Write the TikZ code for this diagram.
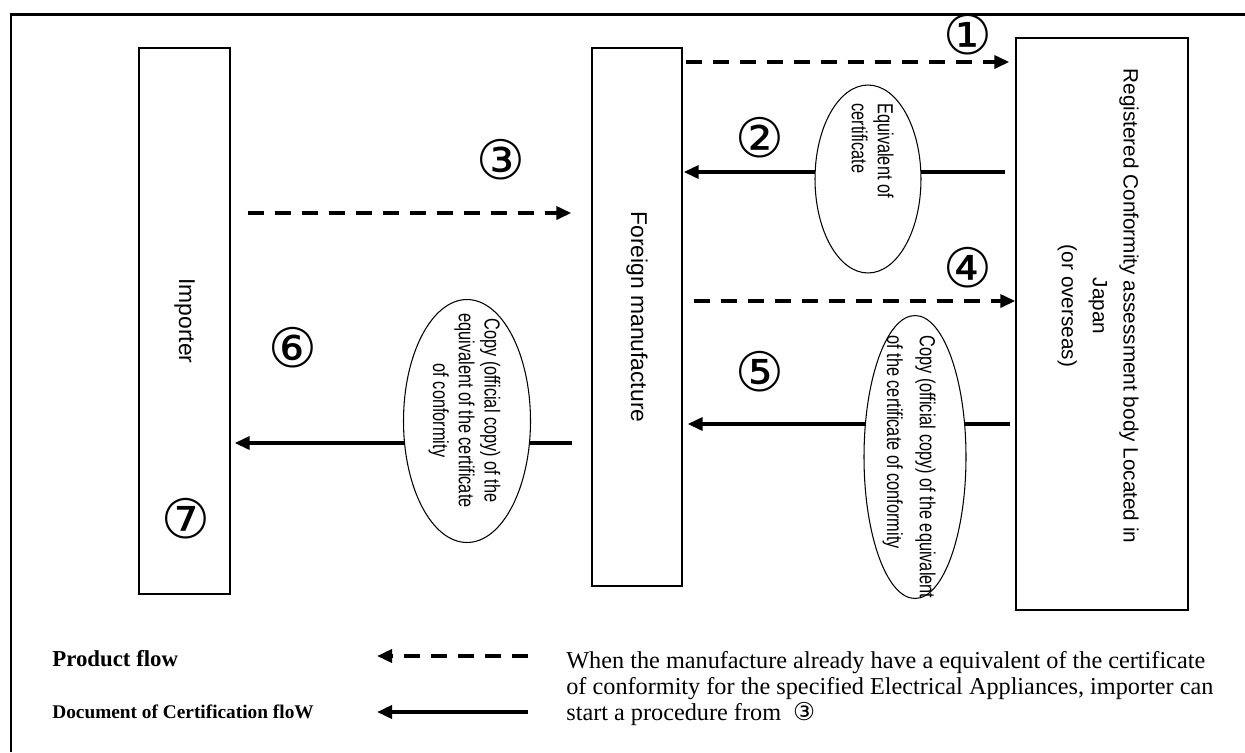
\documentclass[tikz,border=0pt]{standalone}
\usepackage{fontspec}
\setmainfont{Liberation Serif}
\newfontfamily\boxfont{Liberation Sans}
\newfontfamily\narrowfont[FakeStretch=0.75]{Liberation Sans}
\newfontfamily\circfont{DejaVu Sans}
\usetikzlibrary{arrows.meta,shapes.geometric}

\begin{document}
\begin{tikzpicture}[x=0.02cm, y=-0.02cm,
	party/.style={draw, line width=0.8pt, rectangle, inner sep=0pt, font=\boxfont\fontsize{13}{16}\selectfont},
	paper/.style={draw, ellipse, fill=white, line width=0.6pt, inner sep=0pt},
	paptext/.style={inner sep=0pt, font=\narrowfont\fontsize{12.4}{14.7}\selectfont},
	stepno/.style={inner sep=0pt, font=\circfont\fontsize{31}{31}\selectfont},
	prodflow/.style={line width=2pt, dash pattern=on 3.2mm off 2.2mm, -{Triangle[length=3mm,width=2.6mm]}},
	docflow/.style={line width=2pt, -{Triangle[length=3mm,width=2.6mm]}}]
					\useasboundingbox (0,0) rectangle (1245,752);
					\draw[line width=1.7pt] (11,752) -- (11,14) -- (1245,14);
					
					\node[party, minimum width=1.82cm, minimum height=10.92cm] (imp) at (184.5,321) {\rotatebox{-90}{Importer}};
					\node[party, minimum width=1.8cm, minimum height=10.76cm] (fm) at (637,317) {\rotatebox{-90}{Foreign manufacture}};
					\node[party, minimum width=3.44cm, minimum height=11.44cm] (reg) at (1102,324) {};
					\node[inner sep=0pt, font=\boxfont\fontsize{11.8}{17.6}\selectfont] (regtxt) at (1099,306) {\rotatebox{-90}{\begin{tabular}{@{}c@{}}Registered Conformity assessment body Located in\\Japan\\(or overseas)\end{tabular}}};
					
					\coordinate (r1) at (0,62);
					\coordinate (r2) at (0,172);
					\coordinate (r3) at (0,213);
					\coordinate (r4) at (0,301);
					\coordinate (r5) at (0,424);
					\coordinate (r6) at (0,443);
					
					\draw[prodflow, shorten <=0.6mm, shorten >=1.2mm] (fm.east |- r1) -- (reg.west |- r1);
					\draw[docflow, shorten <=2mm, shorten >=0.2mm] (reg.west |- r2) -- (fm.east |- r2);
					\draw[prodflow, shorten <=3.4mm, shorten >=4mm] (imp.east |- r3) -- (fm.west |- r3);
					\draw[prodflow, shorten <=2.2mm] (fm.east |- r4) -- (reg.west |- r4);
					\draw[docflow, shorten <=1mm, shorten >=1mm] (reg.west |- r5) -- (fm.east |- r5);
					\draw[docflow, shorten <=3.8mm, shorten >=0.8mm] (fm.west |- r6) -- (imp.east |- r6);
					
					\node[paper, minimum width=2.12cm, minimum height=3.76cm] (e2) at (868,179) {};
					\node[paper, minimum width=2.04cm, minimum height=5.66cm] (e5) at (915,457) {};
					\node[paper, minimum width=2.54cm, minimum height=4.86cm] (e6) at (467,421) {};
					\node[paptext, anchor=north] (t2) at (870,103) {\rotatebox{-90}{\begin{tabular}{@{}l@{}}Equivalent of\\certificate\end{tabular}}};
					\node[paptext, anchor=north, font=\narrowfont\fontsize{12.4}{18.7}\selectfont] (t5) at (910,335) {\rotatebox{-90}{\begin{tabular}{@{}l@{}}Copy (official copy) of the equivalent\\of the certificate of conformity\end{tabular}}};
					\node[paptext, anchor=north] (t6) at (464,313) {\rotatebox{-90}{\begin{tabular}{@{}c@{}}Copy (official copy) of the\\equivalent of the certificate\\of conformity\end{tabular}}};
					
					\node[stepno] (s1) at (968,35) {①};
					\node[stepno] (s2) at (760,138) {②};
					\node[stepno] (s3) at (501,160) {③};
					\node[stepno] (s4) at (968,268) {④};
					\node[stepno] (s5) at (760,372) {⑤};
					\node[stepno] (s6) at (293,348) {⑥};
					\node[stepno] (s7) at (186,519) {⑦};
					
					% legend
					\node[anchor=west, inner sep=0pt, font=\bfseries\fontsize{13}{15}\selectfont] (lgprod) at (52,659) {Product flow};
					\node[anchor=west, inner sep=0pt, font=\bfseries\fontsize{11}{14}\selectfont] (lgdoc) at (52,712) {Document of Certification floW};
					\coordinate (lgpa) at (528,656);
					\coordinate (lgpb) at (377,656);
					\coordinate (lgda) at (528,712);
					\coordinate (lgdb) at (377,712);
					\draw[prodflow] (lgpa) -- (lgpb);
					\draw[docflow] (lgda) -- (lgdb);
					\node[anchor=north west, align=left, inner sep=0pt, font=\fontsize{13.8}{14.9}\selectfont] (note) at (566,651) {When the manufacture already have a equivalent of the certificate\\of conformity for the specified Electrical Appliances, importer can\\start a procedure from\ \ {\circfont\fontsize{14}{14}\selectfont ③}};
					
					\end{tikzpicture}
\end{document}
